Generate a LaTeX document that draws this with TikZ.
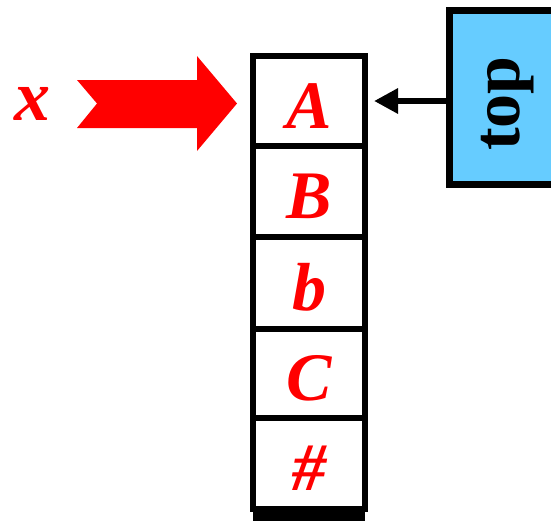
\documentclass[tikz,border=0pt]{standalone}
\usepackage{fontspec}
\setmainfont{Liberation Serif}
\usetikzlibrary{arrows.meta}
\definecolor{topblue}{HTML}{66CCFF}
\begin{document}
\begin{tikzpicture}[x=1pt,y=-1pt,
  cell/.style={draw=black, line width=6pt, minimum width=112pt, inner sep=0pt,
    text=red, font=\fontsize{68}{68}\selectfont\bfseries\itshape,
    text height=54pt, text depth=0pt},
  topboxstyle/.style={draw=black, fill=topblue, line width=7pt, inner sep=0pt},
  toplabelstyle/.style={font=\fontsize{68}{68}\selectfont\bfseries, text=black, inner sep=0pt},
  xlabelstyle/.style={font=\fontsize{72}{72}\selectfont\bfseries\itshape, text=red, inner sep=0pt},
  pointer/.style={line width=6pt, -{Triangle[length=24pt,width=24pt]}},
  bigarrow/.style={fill=red}]
\useasboundingbox (0,0) rectangle (551,520);
% stack cells
\node[cell, minimum height=90pt] (A) at (309,101) {A};
\node[cell, minimum height=91pt] (B) at (309,191.5) {B};
\node[cell, minimum height=92pt] (b) at (309,283) {b};
\node[cell, minimum height=89pt] (C) at (309,373.5) {C};
\node[cell, minimum height=91pt] (H) at (309,463.5) {\#};
\fill[black] (253,509) rectangle (365,525);
% top box
\node[topboxstyle, minimum width=118pt, minimum height=174pt] (top) at (508,97) {};
\node[toplabelstyle, rotate=90] (toplabel) at (507.5,103.5) {top};
\draw[pointer, shorten >=6pt] (top.west |- A) -- (A.east);
% x and big arrow
\node[xlabelstyle] (xlab) at (32,104) {x};
\fill[bigarrow] (77,80) -- (97,103.5) -- (77,128) -- (197,128) -- (197,151)
  -- (237,103.5) -- (197,56) -- (197,80) -- cycle;
\end{tikzpicture}
\end{document}
